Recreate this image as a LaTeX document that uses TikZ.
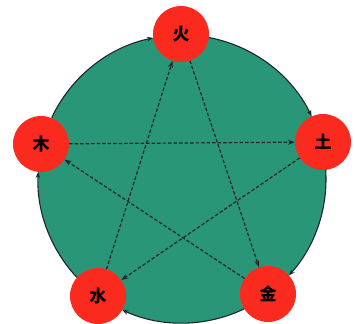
\documentclass[tikz,border=0pt]{standalone}
\usepackage{fontspec}
\newfontfamily\cjk{Noto Sans CJK SC}
\usetikzlibrary{arrows.meta}
\definecolor{wxgreen}{RGB}{42,150,120}
\definecolor{wxred}{RGB}{250,42,30}
\definecolor{wxline}{RGB}{30,35,45}
\begin{document}
\begin{tikzpicture}[x=1pt,y=1pt,
  elem/.style={circle,fill=wxred,minimum size=56pt,inner sep=0pt,
    font=\cjk\bfseries\fontsize{17}{17}\selectfont},
  gen/.style={draw=wxline,line width=1.1pt,-{Stealth[length=6pt,width=4.5pt]}},
  ctrl/.style={draw=black!85,line width=1.2pt,dash pattern=on 3.5pt off 2pt,
    -{Stealth[length=7pt,width=5pt]}}]
\useasboundingbox (0,0) rectangle (355,323);
\fill[white] (0,0) rectangle (355,323);
\coordinate (c) at (182,144);
\fill[wxgreen] (c) circle[radius=144pt];
% generating cycle along the rim
\draw[gen] (c) ++(154.8:144pt) arc[start angle=154.8,end angle=101.6,radius=144pt];
\draw[gen] (c) ++(79.2:144pt) arc[start angle=79.2,end angle=25.9,radius=144pt];
\draw[gen] (c) ++(3.5:144pt) arc[start angle=3.5,end angle=-42.0,radius=144pt];
\draw[gen] (c) ++(-64.4:144pt) arc[start angle=-64.4,end angle=-114.5,radius=144pt];
\draw[gen] (c) ++(-136.9:144pt) arc[start angle=-136.9,end angle=-182.8,radius=144pt];
\node[elem] (huo) at (181,289) {火};
\node[elem] (mu) at (41,179) {木};
\node[elem] (tu) at (323,181) {土};
\node[elem] (shui) at (98,27) {水};
\node[elem] (jin) at (268,29) {金};
% controlling cycle (star)
\draw[ctrl] (mu) -- (tu);
\draw[ctrl] (tu) -- (shui);
\draw[ctrl] (shui) -- (huo);
\draw[ctrl] (huo) -- (jin);
\draw[ctrl] (jin) -- (mu);
\end{tikzpicture}
\end{document}
